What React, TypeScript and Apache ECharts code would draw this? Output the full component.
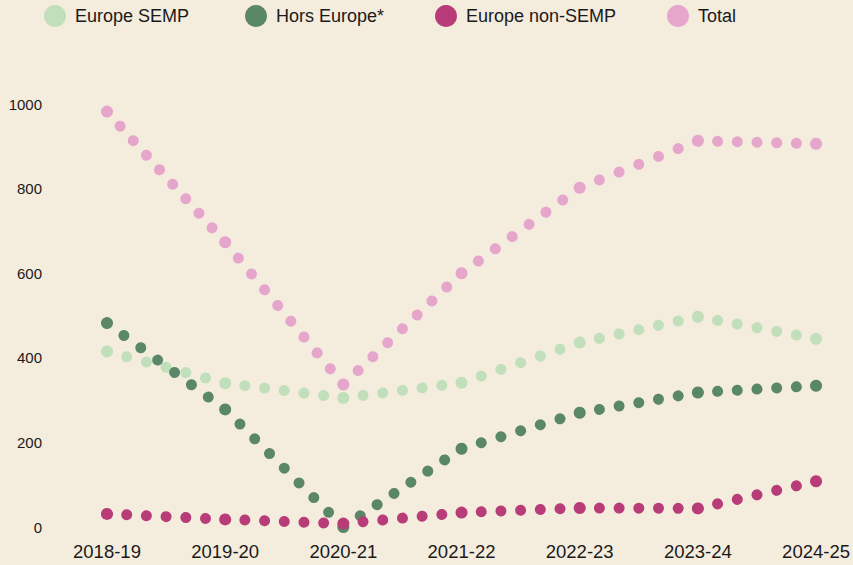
import React, { useEffect, useRef } from "react";
import * as echarts from "echarts";

const categories = ["2018-19", "2019-20", "2020-21", "2021-22", "2022-23", "2023-24", "2024-25"];
const europeSemp = [415, 340, 305, 341, 436, 497, 445];
const horsEurope = [482, 278, 0, 185, 270, 318, 334];
const europeNonSemp = [31, 18, 8, 34, 45, 44, 108];
const total = [982, 673, 337, 600, 802, 913, 906];
const yTicks = [0, 200, 400, 600, 800, 1000];

const seriesNames = ["Europe SEMP", "Hors Europe*", "Europe non-SEMP", "Total"];
const seriesColors = ["#c2dfbb", "#5b8769", "#b83c78", "#e6a6cc"];
const seriesData = [europeSemp, horsEurope, europeNonSemp, total];
const legendLefts = [39, 240, 430, 662];

const FONT = "'Liberation Sans', Arial, sans-serif";
const DOT_STEP = 20.5;
const LINE_W = 11;
const POINT_R = 6;

export default function App() {
  const ref = useRef<HTMLDivElement>(null);
  useEffect(() => {
    if (!ref.current) return;
    const chart = echarts.init(ref.current, null, { renderer: "svg" });
    const makeRender = (values: number[], color: string) => (params: any, api: any) => {
      const i = params.dataIndex;
      const p0 = api.coord([i, values[i]]);
      const children: any[] = [];
      if (i < values.length - 1) {
        const p1 = api.coord([i + 1, values[i + 1]]);
        const len = Math.hypot(p1[0] - p0[0], p1[1] - p0[1]);
        const n = Math.max(1, Math.round(len / DOT_STEP));
        const step = len / n;
        children.push({
          type: "line",
          shape: { x1: p0[0], y1: p0[1], x2: p1[0], y2: p1[1] },
          style: {
            stroke: color,
            lineWidth: LINE_W,
            lineCap: "round",
            lineDash: [0.01, step - 0.01],
            fill: null,
          },
        });
      }
      children.push({
        type: "circle",
        shape: { cx: p0[0], cy: p0[1], r: POINT_R },
        style: { fill: color },
      });
      return { type: "group", children };
    };
    chart.setOption({
      animation: false,
      backgroundColor: "#f4ecdd",
      legend: seriesNames.map((name, k) => ({
        left: legendLefts[k],
        top: 0,
        icon: "circle",
        itemWidth: 30,
        itemHeight: 22,
        selectedMode: false,
        textStyle: { fontFamily: FONT, fontSize: 18, color: "#1a1a1a" },
        data: [name],
      })),
      grid: { left: 107, right: 35, top: 104, bottom: 38 },
      xAxis: {
        type: "category",
        data: categories,
        boundaryGap: false,
        axisLine: { show: false },
        axisTick: { show: false },
        splitLine: { show: false },
        axisLabel: { fontFamily: FONT, fontSize: 18.5, color: "#1a1a1a", margin: 15, interval: 0 },
      },
      yAxis: {
        type: "value",
        min: 0,
        max: 1000,
        interval: 200,
        axisLine: { show: false },
        axisTick: { show: false },
        splitLine: { show: false },
        axisLabel: {
          fontFamily: FONT,
          fontSize: 15,
          color: "#1a1a1a",
          margin: 65,
          formatter: (v: number) => (yTicks.includes(v) ? String(v) : ""),
        },
      },
      series: seriesNames.map((name, k) => ({
        name,
        type: "custom",
        data: seriesData[k].map((v, i) => [i, v]),
        encode: { x: 0, y: 1 },
        clip: false,
        itemStyle: { color: seriesColors[k] },
        renderItem: makeRender(seriesData[k], seriesColors[k]),
      })),
    });
    return () => chart.dispose();
  }, []);
  return <div ref={ref} style={{ width: 853, height: 565, position: "absolute", left: 0, top: 0 }} />;
}
